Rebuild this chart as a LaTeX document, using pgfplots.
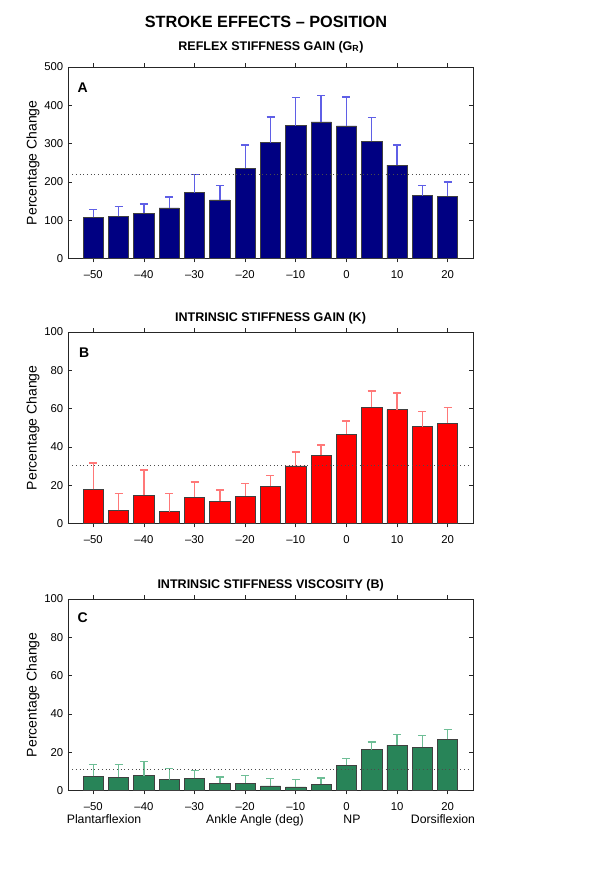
\documentclass[border=0pt]{standalone}
\usepackage{pgfplots}
\pgfplotsset{compat=1.18}
\usepackage{pgfplotstable}
\usepackage{fontspec}
\setmainfont{Liberation Sans}
\definecolor{navybar}{RGB}{0,0,130}
\definecolor{errblue}{RGB}{95,95,230}
\definecolor{redbar}{RGB}{255,0,0}
\definecolor{errred}{RGB}{255,120,120}
\definecolor{greenbar}{RGB}{40,132,88}
\definecolor{errgreen}{RGB}{110,190,150}

\pgfplotstableread{
x y e
-50 107.8 20.0
-45 109.6 26.0
-40 118.3 24.3
-35 132.2 28.7
-30 172.2 46.8
-25 153.0 37.4
-20 235.7 60.8
-15 302.6 67.0
-10 347.0 73.0
-5 356.5 68.5
0 346.0 75.7
5 306.0 61.8
10 243.5 53.0
15 164.3 26.1
20 162.6 37.4
}\dataA
\pgfplotstableread{
x y e
-50 17.8 13.7
-45 6.8 8.7
-40 14.8 13.1
-35 6.1 9.4
-30 13.8 7.8
-25 11.7 5.7
-20 14.3 6.6
-15 19.5 5.4
-10 30.1 7.2
-5 35.7 5.2
0 46.7 6.8
5 60.8 8.4
10 59.4 8.7
15 50.5 7.9
20 52.4 8.2
}\dataB
\pgfplotstableread{
x y e
-50 7.3 6.1
-45 7.0 6.4
-40 7.8 7.2
-35 5.6 5.9
-30 6.3 4.3
-25 3.7 3.3
-20 3.8 3.9
-15 2.4 4.0
-10 1.9 3.7
-5 3.3 3.3
0 13.1 3.5
5 21.4 3.9
10 23.5 5.8
15 22.6 6.1
20 26.7 5.0
}\dataC

\pgfplotsset{
  panel/.style={
    width=303.75pt, height=143.6pt, scale only axis,
    xmin=-55, xmax=25, ymin=0,
    xtick={-50,-40,...,20},
    xticklabels={–50,–40,–30,–20,–10,0,10,20},
    tick align=inside, major tick length=3pt,
    axis line style={black!85, line width=0.5pt},
    tick style={black!85, line width=0.5pt},
    tick label style={font=\fontsize{8.5pt}{10pt}\selectfont},
    xticklabel style={yshift=-2.2pt},
    /pgf/number format/assume math mode=true,
    ylabel={Percentage Change},
    every axis y label/.style={at={(axis description cs:-0.0864,0.5)}, rotate=90, anchor=center, font=\fontsize{10.5pt}{12pt}\selectfont},
    ybar, bar width=4,
    clip=false,
  },
  barstyle/.style n args={2}{
    fill=#1, draw=black!75, line width=0.5pt,
    error bars/.cd, y dir=plus, y explicit,
    error bar style={draw=#2, color=#2, line width=1pt, solid},
    error mark options={draw=#2, color=#2, mark size=3pt, line width=1pt, rotate=90},
  },
  refline/.style={sharp plot, black!70, line width=0.6pt, dash pattern=on 0.6pt off 2.2pt},
}

\begin{document}
\begin{tikzpicture}
\path (0,0) rectangle (450pt,-666.75pt);

\node[anchor=base, font=\fontsize{12.2pt}{14pt}\selectfont\bfseries] at (199.5pt,-20.5pt) {STROKE EFFECTS – POSITION};
\node[anchor=base, font=\fontsize{9.4pt}{11pt}\selectfont\bfseries] at (203.25pt,-37.5pt) {REFLEX STIFFNESS GAIN (G\textsubscript{R})};
\node[anchor=base, font=\fontsize{9.4pt}{11pt}\selectfont\bfseries] at (202.9pt,-241.25pt) {INTRINSIC STIFFNESS GAIN (K)};
\node[anchor=base, font=\fontsize{9.4pt}{11pt}\selectfont\bfseries] at (203pt,-441.25pt) {INTRINSIC STIFFNESS VISCOSITY (B)};

\begin{axis}[panel, at={(51pt,-50.25pt)}, anchor=north west, ymax=500, ytick={0,100,...,500}]
\addplot[barstyle={navybar}{errblue}] table[x=x, y=y, y error=e] {\dataA};
\addplot[refline] coordinates {(-54.2,219) (24.5,219)};
\node[font=\fontsize{10.5pt}{12pt}\selectfont\bfseries] at (rel axis cs:0.036,0.89) {A};
\end{axis}

\begin{axis}[panel, at={(51pt,-249pt)}, anchor=north west, ymax=100, ytick={0,20,...,100}]
\addplot[barstyle={redbar}{errred}] table[x=x, y=y, y error=e] {\dataB};
\addplot[refline] coordinates {(-54.2,30.3) (24.5,30.3)};
\node[font=\fontsize{10.5pt}{12pt}\selectfont\bfseries] at (rel axis cs:0.04,0.89) {B};
\end{axis}

\begin{axis}[panel, at={(51pt,-449.25pt)}, anchor=north west, ymax=100, ytick={0,20,...,100}]
\addplot[barstyle={greenbar}{errgreen}] table[x=x, y=y, y error=e] {\dataC};
\addplot[refline] coordinates {(-54.2,10.8) (24.5,10.8)};
\node[font=\fontsize{10.5pt}{12pt}\selectfont\bfseries] at (rel axis cs:0.036,0.9) {C};
\end{axis}

\node[anchor=base, font=\fontsize{9.2pt}{11pt}\selectfont] at (78pt,-617.5pt) {Plantarflexion};
\node[anchor=base, font=\fontsize{9.2pt}{11pt}\selectfont] at (191.25pt,-617.5pt) {Ankle Angle (deg)};
\node[anchor=base, font=\fontsize{9.2pt}{11pt}\selectfont] at (264pt,-617.5pt) {NP};
\node[anchor=base, font=\fontsize{9.2pt}{11pt}\selectfont] at (332.25pt,-617.5pt) {Dorsiflexion};
\end{tikzpicture}
\end{document}
